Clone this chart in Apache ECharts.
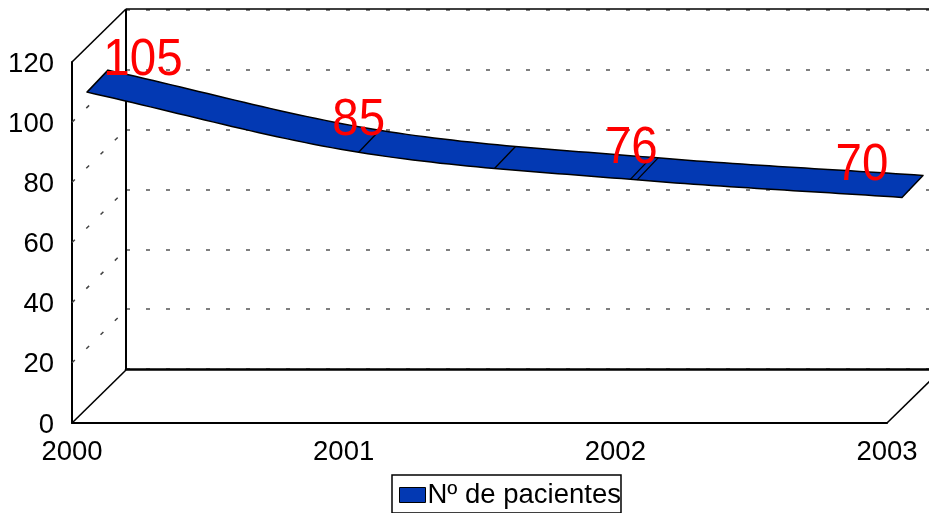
<!DOCTYPE html>
<html><head><meta charset="utf-8">
<style>html,body{margin:0;padding:0;background:#fff}#c{width:929px;height:513px}</style>
<script src="https://cdn.jsdelivr.net/npm/echarts@6/dist/echarts.min.js"></script>
</head><body><div id="c"></div>
<script>
const years = [2000, 2001, 2002, 2003];
const patients = [105, 85, 76, 70];
const seriesName = 'Nº de pacientes';
const yTicks = [20, 40, 60, 80, 100, 120];
const facetYears = [2001, 2001.5, 2002, 2002.025];

const FONT = '"Liberation Sans", Arial, sans-serif';
const DEPTH = [54, -53];
const RIBBON_FRONT = [15, -15], RIBBON_BACK = [36, -37];
const LABEL_SHIFT = [[71, -46], [15, -46], [16, -46], [-25, -47]];
const BLUE = '#0339b3';

// Catmull-Rom through the data with straight-extended ends, evaluated at a given year
function curve(year) {
  const n = patients.length;
  const i = Math.min(Math.floor(year - years[0]), n - 2);
  const t = year - years[i];
  const p1 = patients[i], p2 = patients[i + 1];
  const p0 = i > 0 ? patients[i - 1] : 2 * p1 - p2;
  const p3 = i + 2 < n ? patients[i + 2] : 2 * p2 - p1;
  return 0.5 * (2 * p1 + (p2 - p0) * t + (2 * p0 - 5 * p1 + 4 * p2 - p3) * t * t + (3 * p1 - p0 - 3 * p2 + p3) * t * t * t);
}
const at = (api, x, y, off) => {
  const p = api.coord([x, y]);
  return [p[0] + off[0], p[1] + off[1]];
};
const NONE = [0, 0];

const chart = echarts.init(document.getElementById('c'), null, { renderer: 'canvas' });
chart.setOption({
  animation: false,
  backgroundColor: '#fff',
  textStyle: { fontFamily: FONT },
  grid: [
    { left: 126, top: 10, width: 815, height: 359 },
    { left: 72, top: 62, width: 815, height: 361 }
  ],
  xAxis: [
    { gridIndex: 0, type: 'value', min: 2000, max: 2003, interval: 1,
      axisLabel: { show: false }, axisTick: { show: false }, splitLine: { show: false },
      axisLine: { show: true, onZero: false, lineStyle: { color: '#000', width: 2.5 } } },
    { gridIndex: 1, type: 'value', min: 2000, max: 2003, interval: 1,
      axisTick: { show: false }, splitLine: { show: false },
      axisLine: { show: true, onZero: false, lineStyle: { color: '#000', width: 2 } },
      axisLabel: { color: '#000', fontSize: 27.5, fontFamily: FONT, margin: 15, formatter: v => String(v), hideOverlap: false } }
  ],
  yAxis: [
    { gridIndex: 0, type: 'value', min: 0, max: 120, interval: 20,
      axisLabel: { show: false }, axisTick: { show: false },
      axisLine: { show: true, onZero: false, lineStyle: { color: '#000', width: 2 } },
      splitLine: { show: true, lineStyle: { color: '#555', width: 1.5, type: [4, 16] } } },
    { gridIndex: 1, type: 'value', min: 0, max: 120, interval: 20,
      axisTick: { show: false }, splitLine: { show: false },
      axisLine: { show: true, onZero: false, lineStyle: { color: '#000', width: 2 } },
      axisLabel: { color: '#000', fontSize: 27.5, fontFamily: FONT, margin: 18,
        formatter: v => '{t|' + v + '}',
        rich: { t: { color: '#000', fontSize: 27.5, fontFamily: FONT, padding: [4, 0, 0, 0] } } } }
  ],
  legend: {
    show: true, left: 392, top: 475, selectedMode: false, orient: 'horizontal',
    padding: [6, 0, 4, 7], itemGap: 0, itemWidth: 26, itemHeight: 15,
    borderColor: '#000', borderWidth: 1.5, backgroundColor: '#fff',
    icon: 'rect',
    textStyle: { color: '#000', fontSize: 27.5, fontFamily: FONT, padding: [2, 0, 0, -3] },
    data: [{ name: seriesName, itemStyle: { color: BLUE, borderColor: '#000', borderWidth: 1 } }]
  },
  series: [
    { // dotted depth lines on the side wall
      type: 'custom', name: 'sideGrid', xAxisIndex: 1, yAxisIndex: 1, silent: true, z: 2,
      data: yTicks.map(t => [years[0], t]),
      renderItem: (params, api) => {
        const a = at(api, api.value(0), api.value(1), NONE), b = at(api, api.value(0), api.value(1), DEPTH);
        const shape = { x1: a[0], y1: a[1], x2: b[0], y2: b[1] };
        if (api.value(1) === 120) {
          return { type: 'line', shape, style: { stroke: '#000', lineWidth: 1.6 } };
        }
        return { type: 'line', shape, style: { stroke: '#444', lineWidth: 1.5, lineDash: [4, 16] } };
      }
    },
    { // 3D box edges
      type: 'custom', name: 'box', xAxisIndex: 1, yAxisIndex: 1, silent: true, z: 3,
      data: [[years[0], 0], [years[years.length - 1], 0]],
      renderItem: (params, api) => {
        const a = at(api, api.value(0), 0, NONE), b = at(api, api.value(0), 0, DEPTH);
        const children = [{ type: 'line', shape: { x1: a[0], y1: a[1], x2: b[0], y2: b[1] }, style: { stroke: '#000', lineWidth: 1.6 } }];
        if (params.dataIndex === 0) {
          const p = at(api, years[0], 120, DEPTH), q = at(api, years[years.length - 1], 120, DEPTH);
          children.push({ type: 'line', shape: { x1: p[0], y1: p[1], x2: q[0], y2: q[1] }, style: { stroke: '#000', lineWidth: 1.5 } });
        }
        return { type: 'group', children };
      }
    },
    { // ribbon
      type: 'custom', name: seriesName, xAxisIndex: 1, yAxisIndex: 1, silent: true, z: 5,
      itemStyle: { color: BLUE },
      data: years.map((y, i) => [y, patients[i]]),
      renderItem: (params, api) => {
        if (params.dataIndex !== 0) return null;
        const front = [], back = [];
        const N = 90;
        const x0 = years[0], x1 = years[years.length - 1];
        for (let k = 0; k <= N; k++) {
          const x = x0 + (x1 - x0) * k / N;
          front.push(at(api, x, curve(x), RIBBON_FRONT));
          back.push(at(api, x, curve(x), RIBBON_BACK));
        }
        const children = [{
          type: 'polygon', shape: { points: front.concat(back.slice().reverse()) },
          style: { fill: BLUE, stroke: '#000', lineWidth: 1.5, lineJoin: 'round' }
        }];
        facetYears.forEach(x => {
          const a = at(api, x, curve(x), RIBBON_FRONT), b = at(api, x, curve(x), RIBBON_BACK);
          children.push({ type: 'line', shape: { x1: a[0], y1: a[1], x2: b[0], y2: b[1] }, style: { stroke: '#000', lineWidth: 1.3 } });
        });
        return { type: 'group', children };
      }
    },
    { // data labels
      type: 'custom', name: 'labels', xAxisIndex: 1, yAxisIndex: 1, silent: true, z: 8,
      data: years.map((y, i) => [y, patients[i]]),
      renderItem: (params, api) => {
        const p = api.coord([api.value(0), api.value(1)]);
        const s = LABEL_SHIFT[params.dataIndex];
        return { type: 'text', x: p[0] + s[0], y: p[1] + s[1], scaleX: 0.95, scaleY: 1.03,
          style: { x: 0, y: 0, text: String(api.value(1)),
            fill: '#ff0000', font: '50px ' + FONT, textAlign: 'center', textVerticalAlign: 'middle' } };
      }
    }
  ]
});
</script></body></html>
